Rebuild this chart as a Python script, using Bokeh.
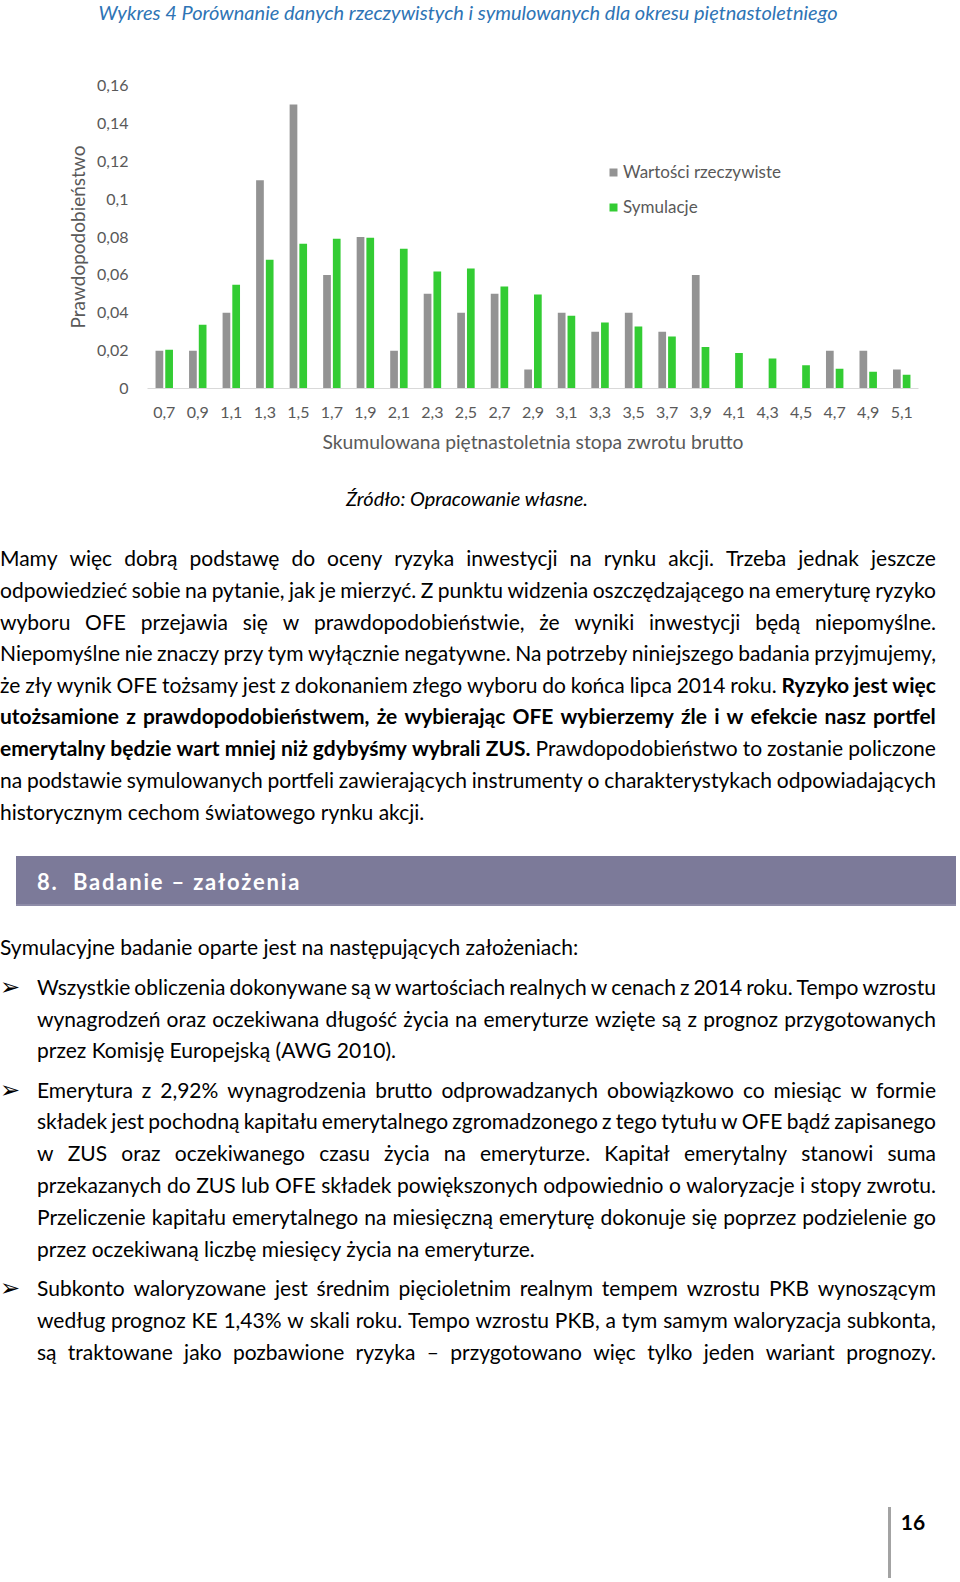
from bokeh.plotting import figure
from bokeh.models import (FactorRange, Range1d, Legend, LegendItem, Div,
                          FixedTicker, ColumnDataSource)
from bokeh.transform import dodge
from bokeh.layouts import column
from bokeh.embed import file_html
from bokeh.resources import INLINE

# ---------------- chart data ----------------
categories = ["0,7", "0,9", "1,1", "1,3", "1,5", "1,7", "1,9", "2,1", "2,3", "2,5", "2,7", "2,9",
              "3,1", "3,3", "3,5", "3,7", "3,9", "4,1", "4,3", "4,5", "4,7", "4,9", "5,1"]
actual = [0.02, 0.02, 0.04, 0.11, 0.15, 0.06, 0.08, 0.02, 0.05, 0.04, 0.05, 0.01,
          0.04, 0.03, 0.04, 0.03, 0.06, 0.0, 0.0, 0.0, 0.02, 0.02, 0.01]
simulated = [0.0205, 0.0337, 0.0548, 0.068, 0.0765, 0.0791, 0.0796, 0.0738, 0.0618, 0.0634, 0.0539, 0.0497,
             0.0384, 0.0349, 0.0328, 0.0275, 0.0219, 0.0187, 0.0159, 0.0123, 0.0104, 0.0088, 0.0072]
y_ticks = [0, 0.02, 0.04, 0.06, 0.08, 0.1, 0.12, 0.14, 0.16]
y_tick_labels = ["0", "0,02", "0,04", "0,06", "0,08", "0,1", "0,12", "0,14", "0,16"]
series_names = ["Wartości rzeczywiste", "Symulacje"]
chart_title = "Wykres 4 Porównanie danych rzeczywistych i symulowanych dla okresu piętnastoletniego"
x_title = "Skumulowana piętnastoletnia stopa zwrotu brutto"
y_title = "Prawdopodobieństwo"
source_note = "Źródło: Opracowanie własne."

GRAY = "#939393"
GREEN = "#33CC33"
AXIS_TXT = "#595959"
FONT = "Lato"

W = 960
TH = 30          # title strip height
FH = 440         # figure height
CH = TH + FH     # where the body text block starts
TOTAL_H = 1578
FL = 147         # frame left (page px)
FB = 388         # frame bottom (page px)
FT = 85          # frame top (page px)

src = ColumnDataSource(dict(cat=categories, actual=actual, sim=simulated))

title_div = Div(text=(f'<div style="width:{W}px;height:{TH}px;position:relative;">'
                      f'<div style="position:absolute;left:0;width:936px;top:0px;height:24px;line-height:24px;'
                      f'text-align:center;font-family:{FONT};font-style:italic;font-size:20px;'
                      f'color:#2E74B5;white-space:nowrap;">{chart_title}</div></div>'),
                width=W, height=TH, margin=0)

p = figure(x_range=FactorRange(factors=categories, range_padding=0, factor_padding=0),
           y_range=Range1d(0, 0.16), width=W, height=FH,
           output_backend="svg", toolbar_location=None,
           min_border_left=FL, min_border_right=W - FL - 771, min_border_top=FT - TH,
           min_border_bottom=CH - FB)
p.outline_line_color = None
p.background_fill_color = "white"
p.border_fill_color = "white"
p.xgrid.visible = False
p.ygrid.visible = False

r1 = p.vbar(x=dodge("cat", -0.145, range=p.x_range), top="actual", width=0.23,
            source=src, fill_color=GRAY, line_color=None)
r2 = p.vbar(x=dodge("cat", 0.145, range=p.x_range), top="sim", width=0.23,
            source=src, fill_color=GREEN, line_color=None)

# y axis
p.yaxis.ticker = FixedTicker(ticks=y_ticks)
p.yaxis.major_label_overrides = {t: l for t, l in zip(y_ticks, y_tick_labels)}
p.yaxis.axis_line_color = None
p.yaxis.major_tick_line_color = None
p.yaxis.minor_tick_line_color = None
p.yaxis.major_tick_out = 0
p.yaxis.major_tick_in = 0
p.yaxis.minor_tick_out = 0
p.yaxis.major_label_standoff = 19
p.yaxis.major_label_text_font = FONT
p.yaxis.major_label_text_font_size = "16px"
p.yaxis.major_label_text_color = AXIS_TXT
p.yaxis.axis_label = y_title
p.yaxis.axis_label_text_font = FONT
p.yaxis.axis_label_text_font_size = "19px"
p.yaxis.axis_label_text_font_style = "normal"
p.yaxis.axis_label_text_color = AXIS_TXT
p.yaxis.axis_label_standoff = 5

# x axis
p.xaxis.axis_line_color = "#D9D9D9"
p.xaxis.axis_line_width = 1
p.xaxis.major_tick_line_color = None
p.xaxis.minor_tick_line_color = None
p.xaxis.major_tick_out = 0
p.xaxis.major_tick_in = 0
p.xaxis.minor_tick_out = 0
p.xaxis.major_label_standoff = 18
p.xaxis.major_label_text_font = FONT
p.xaxis.major_label_text_font_size = "16px"
p.xaxis.major_label_text_color = AXIS_TXT
p.xaxis.axis_label = x_title
p.xaxis.axis_label_text_font = FONT
p.xaxis.axis_label_text_font_size = "19.3px"
p.xaxis.axis_label_text_font_style = "normal"
p.xaxis.axis_label_text_color = AXIS_TXT
p.xaxis.axis_label_standoff = 9

legend = Legend(items=[LegendItem(label=series_names[0], renderers=[r1]),
                       LegendItem(label=series_names[1], renderers=[r2])],
                location=(461, 171), orientation="vertical", padding=0, margin=0,
                spacing=14, border_line_color=None, background_fill_alpha=0,
                label_text_font=FONT, label_text_font_size="17px",
                label_text_color=AXIS_TXT, glyph_width=10, glyph_height=10,
                label_standoff=5, label_height=20)
p.add_layout(legend, "center")

# ---------------- page text ----------------
OFF = CH
FS = 21


def render_line(y, text, left, width, justify):
    top = y - OFF - 12
    words = text.split()
    spans = []
    bold = False
    for i, w in enumerate(words):
        if w.startswith("**"):
            bold = True
            w = w[2:]
        end = w.endswith("**")
        if end:
            w = w[:-2]
        fw = "700" if bold else "400"
        sep = " " if i < len(words) - 1 else ""
        spans.append(f'<span style="font-weight:{fw}">{w}{sep}</span>')
        if end:
            bold = False
    if justify:
        style = (f"position:absolute;left:{left}px;top:{top}px;width:{width}px;height:24px;"
                 f"line-height:24px;display:flex;justify-content:space-between;white-space:nowrap;")
        return f'<div style="{style}">' + "".join(spans) + "</div>"
    style = (f"position:absolute;left:{left}px;top:{top}px;height:24px;"
             f"line-height:24px;white-space:nowrap;")
    return f'<div style="{style}">' + "".join(spans) + "</div>"


para_lines = [
    (558, "Mamy więc dobrą podstawę do oceny ryzyka inwestycji na rynku akcji. Trzeba jednak jeszcze", True),
    (589.5, "odpowiedzieć sobie na pytanie, jak je mierzyć. Z punktu widzenia oszczędzającego na emeryturę ryzyko", True),
    (621.5, "wyboru OFE przejawia się w prawdopodobieństwie, że wyniki inwestycji będą niepomyślne.", True),
    (653, "Niepomyślne nie znaczy przy tym wyłącznie negatywne. Na potrzeby niniejszego badania przyjmujemy,", True),
    (684.5, "że zły wynik OFE tożsamy jest z dokonaniem złego wyboru do końca lipca 2014 roku. **Ryzyko jest więc**", True),
    (716, "**utożsamione z prawdopodobieństwem, że wybierając OFE wybierzemy źle i w efekcie nasz portfel**", True),
    (747.5, "**emerytalny będzie wart mniej niż gdybyśmy wybrali ZUS.** Prawdopodobieństwo to zostanie policzone", True),
    (780, "na podstawie symulowanych portfeli zawierających instrumenty o charakterystykach odpowiadających", True),
    (812, "historycznym cechom światowego rynku akcji.", False),
    (946.5, "Symulacyjne badanie oparte jest na następujących założeniach:", False),
]
bullet_lines = [
    (987, "Wszystkie obliczenia dokonywane są w wartościach realnych w cenach z 2014 roku. Tempo wzrostu", True, True),
    (1018.5, "wynagrodzeń oraz oczekiwana długość życia na emeryturze wzięte są z prognoz przygotowanych", True, False),
    (1050, "przez Komisję Europejską (AWG 2010).", False, False),
    (1089.5, "Emerytura z 2,92% wynagrodzenia brutto odprowadzanych obowiązkowo co miesiąc w formie", True, True),
    (1121, "składek jest pochodną kapitału emerytalnego zgromadzonego z tego tytułu w OFE bądź zapisanego", True, False),
    (1153, "w ZUS oraz oczekiwanego czasu życia na emeryturze. Kapitał emerytalny stanowi suma", True, False),
    (1184.5, "przekazanych do ZUS lub OFE składek powiększonych odpowiednio o waloryzacje i stopy zwrotu.", True, False),
    (1216.5, "Przeliczenie kapitału emerytalnego na miesięczną emeryturę dokonuje się poprzez podzielenie go", True, False),
    (1248.5, "przez oczekiwaną liczbę miesięcy życia na emeryturze.", False, False),
    (1288, "Subkonto waloryzowane jest średnim pięcioletnim realnym tempem wzrostu PKB wynoszącym", True, True),
    (1320, "według prognoz KE 1,43% w skali roku. Tempo wzrostu PKB, a tym samym waloryzacja subkonta,", True, False),
    (1351.5, "są traktowane jako pozbawione ryzyka – przygotowano więc tylko jeden wariant prognozy.", True, False),
]

parts = []
# source note under the chart
parts.append(f'<div style="position:absolute;left:0px;width:934px;top:{498 - OFF - 12}px;height:24px;'
             f'line-height:24px;text-align:center;font-style:italic;font-size:20px;white-space:nowrap;">'
             f'{source_note}</div>')
for y, t, j in para_lines:
    parts.append(render_line(y, t, 0, 936, j))
for y, t, j, b in bullet_lines:
    parts.append(render_line(y, t, 37, 899, j))
    if b:
        parts.append(f'<div style="position:absolute;left:0px;top:{y - OFF - 15}px;height:30px;line-height:30px;'
                     f'font-family:\'DejaVu Sans\';font-size:24px;">➢</div>')

# section header bar
parts.append(f'<div style="position:absolute;left:16px;top:{855.5 - OFF}px;width:940px;height:50px;'
             f'background:#7C7A99;border-bottom:2px solid #8E8CA8;box-sizing:border-box;"></div>')
parts.append(f'<div style="position:absolute;left:37px;top:{882 - OFF - 14}px;height:28px;line-height:28px;'
             f'color:#FFFFFF;font-weight:700;font-size:22px;letter-spacing:1.8px;white-space:pre;">8.  Badanie – założenia</div>')

# page number and rule
parts.append(f'<div style="position:absolute;left:888px;top:{1507 - OFF}px;width:3px;height:{TOTAL_H - 1507}px;'
             f'background:#A3A3A3;"></div>')
parts.append(f'<div style="position:absolute;left:898px;top:{1521.5 - OFF - 13}px;width:30px;height:26px;'
             f'line-height:26px;text-align:center;font-weight:700;font-size:21px;">16</div>')

html = (f'<div style="position:relative;width:{W}px;height:{TOTAL_H - CH}px;font-family:{FONT};'
        f'font-size:{FS}px;color:#000000;background:#FFFFFF;overflow:hidden;">' + "".join(parts) + "</div>")

body = Div(text=html, width=W, height=TOTAL_H - CH, margin=0)

layout = column(title_div, p, body, spacing=0)
open("out.html", "w").write(file_html(layout, INLINE))
